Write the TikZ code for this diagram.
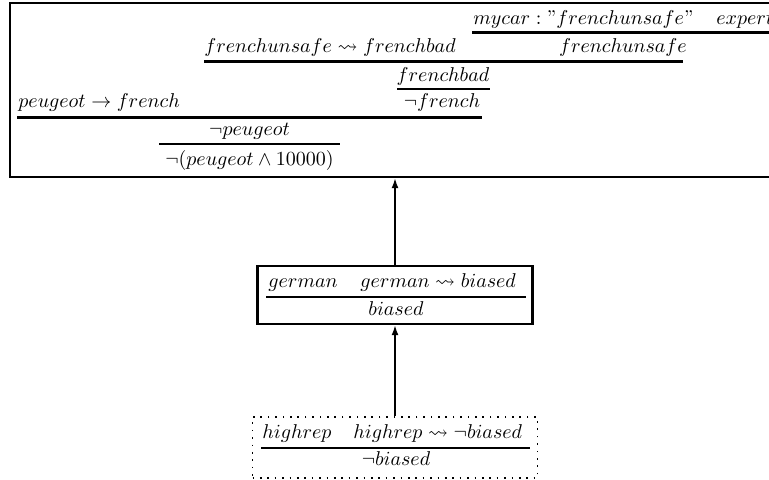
\documentclass[tikz,border=0pt]{standalone}
\usepackage{amssymb}
\usetikzlibrary{arrows.meta}
\tikzset{
  txt/.style={inner sep=0pt, anchor=base},
  txtl/.style={inner sep=0pt, anchor=base west},
  rule/.style={line width=1.2pt},
  boxthick/.style={draw, line width=1.2pt, inner sep=0pt},
  boxdots/.style={draw, line width=0.8pt, dash pattern=on 0.8pt off 2.9pt, inner sep=0pt},
  arr/.style={line width=0.8pt, -{Latex[length=5pt,width=3.5pt]}}
}
\begin{document}
\begin{tikzpicture}[x=0.5pt,y=-0.5pt]
\useasboundingbox (0,0) rectangle (769,480);
\begin{scope}
\clip (0,0) rectangle (769,480);
% boxes
\node[boxthick, minimum width=395pt, minimum height=87pt] (top) at (405,90) {};
\node[boxthick, minimum width=137.5pt, minimum height=29pt] (mid) at (395,295) {};
\node[boxdots, minimum width=142.5pt, minimum height=30.5pt] (bot) at (395,447.5) {};
% top proof tree
\node[txtl] (mycar) at (473,25) {$mycar : \mbox{''}frenchunsafe\mbox{''}$};
\node[txtl] (expert) at (716,25) {$expert$};
\draw[rule] (472,32.5) -- (790,32.5);
\node[txtl] (lead) at (204,53) {$frenchunsafe \leadsto frenchbad$};
\node[txt] (fu) at (623,53) {$frenchunsafe$};
\draw[rule] (204,61.5) -- (683,61.5);
\node[txt] (fb) at (443,82) {$frenchbad$};
\draw[rule] (397,89) -- (490,89);
\node[txtl] (pf) at (18,108) {$peugeot \rightarrow french$};
\node[txt] (nf) at (442,108) {$\neg french$};
\draw[rule] (17,117.5) -- (482,117.5);
\node[txt] (np) at (249.5,136) {$\neg peugeot$};
\draw[rule] (159,144) -- (340,144);
\node[txt] (npa) at (249.5,166) {$\neg(peugeot \wedge 10000)$};
% middle
\node[txtl] (g1) at (268,287) {$german$};
\node[txtl] (g2) at (360,287) {$german \leadsto biased$};
\draw[rule] (266,297) -- (526,297);
\node[txt] (b) at (396,315) {$biased$};
% bottom
\node[txtl] (h1) at (262,438) {$highrep$};
\node[txtl] (h2) at (353,438) {$highrep \leadsto \neg biased$};
\draw[rule] (261,448) -- (530,448);
\node[txt] (nb) at (396,465) {$\neg biased$};
% arrows
\draw[arr] (mid.north) -- (mid.north |- top.south);
\draw[arr] (bot.north) -- (mid.south);
\end{scope}
\end{tikzpicture}
\end{document}
